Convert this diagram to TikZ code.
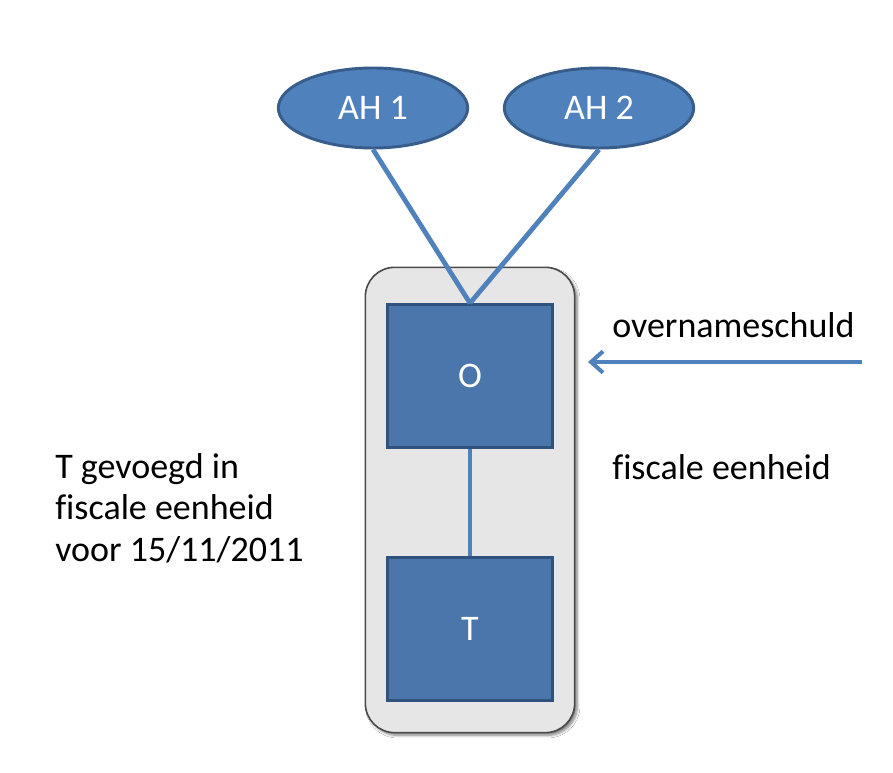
\documentclass[tikz,border=0pt]{standalone}
\usepackage{fontspec}
\setmainfont{Carlito}[Ligatures=NoCommon]
\usepackage{xcolor}
\usepackage{tikz}
\usetikzlibrary{arrows.meta,calc,positioning,shapes.geometric,shadows.blur}
\definecolor{ahfill}{HTML}{4F81BD}
\definecolor{ahdraw}{HTML}{385D8A}
\definecolor{boxfill}{HTML}{4A76AC}
\definecolor{boxdraw}{HTML}{30527F}
\definecolor{unitfill}{HTML}{E6E6E6}
\definecolor{unitdraw}{HTML}{4A4A4A}
\definecolor{link}{HTML}{4F81BD}
\tikzset{
  holder/.style={
    ellipse,
    draw=ahdraw,
    line width=2.2pt,
    fill=ahfill,
    text=white,
    font=\fontsize{27}{31}\selectfont,
    minimum width=142pt,
    minimum height=60pt
  },
  company/.style={
    rectangle,
    draw=boxdraw,
    line width=2.2pt,
    fill=boxfill,
    text=white,
    font=\fontsize{27}{31}\selectfont,
    minimum width=124pt,
    minimum height=107pt
  },
  unit/.style={
    rectangle,
    rounded corners=22pt,
    draw=unitdraw,
    line width=1.2pt,
    fill=unitfill,
    blur shadow={shadow blur steps=6, shadow xshift=2pt, shadow yshift=-2pt, shadow opacity=50},
    minimum width=157pt,
    minimum height=349pt
  },
  tie/.style={line width=3.6pt, draw=link},
  debtarrow/.style={line width=3.6pt, draw=link, -{Straight Barb[length=9pt, width=16pt, line width=3pt]}},
  caption/.style={font=\fontsize{27}{31}\selectfont, anchor=west, align=left, inner sep=0pt}
}

\begin{document}
\begin{tikzpicture}[x=0.75pt,y=-0.75pt]
\useasboundingbox (0,0) rectangle (893,773);
\fill[white] (0,0) rectangle (893,773);

\node[unit] (frame) at (470,500) {};

\node[holder] (ah1) at (373,108) {AH 1};
\node[holder] (ah2) at (599,108) {AH 2};

\node[company] (o) at (470,376) {O};
\node[company] (t) at (470,629) {T};

\foreach \a in {ah1,ah2}
  \draw[tie] (\a.south) -- (o.north);
\draw[tie] (o) -- (t);

\coordinate (debtsrc) at (862,362);
\coordinate (debtend) at (588,362);
\draw[debtarrow] (debtsrc) -- (debtend);

\node[caption] (debt) at (612,325) {overnameschuld};
\node[caption] (fe) at (612,467) {fiscale eenheid};
\node[caption] (joined) at (55,508) {T gevoegd in\\fiscale eenheid\\voor 15/11/2011};
\end{tikzpicture}
\end{document}
